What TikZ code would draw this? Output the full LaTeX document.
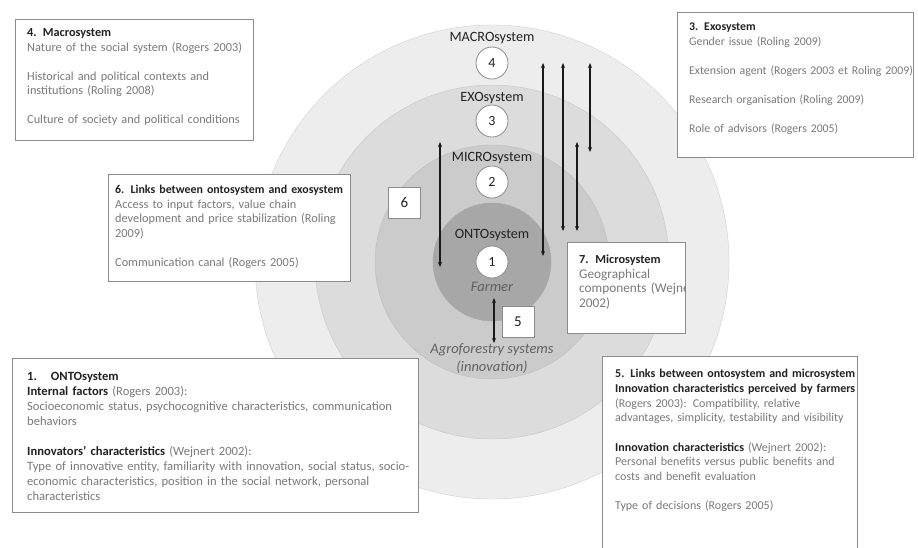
\documentclass[tikz,border=0pt]{standalone}
\usepackage{fontspec}
\setmainfont{Carlito}
\usetikzlibrary{arrows.meta}
\definecolor{cmacro}{HTML}{EDEDED}
\definecolor{cexo}{HTML}{DCDCDC}
\definecolor{cmicro}{HTML}{CBCBCB}
\definecolor{conto}{HTML}{A7A7A7}
\definecolor{ttl}{HTML}{222222}
\definecolor{bdy}{HTML}{7A7A7A}
\definecolor{bord}{HTML}{8C8C8C}
\newcommand\bt[1]{\textcolor{ttl}{\textbf{#1}}}
\begin{document}
\begin{tikzpicture}[x=1pt,y=-1pt,
  ring/.style={circle,inner sep=0pt},
  numc/.style={circle,fill=white,draw=bord,line width=0.8pt,minimum size=32pt,inner sep=0pt,font=\fontsize{14}{14}\selectfont,text=ttl},
  syslbl/.style={font=\fontsize{14.2}{14.2}\selectfont,text=ttl,inner sep=0pt},
  italbl/.style={font=\fontsize{14.5}{18}\selectfont\itshape,text=black!62,inner sep=0pt,align=center},
  tbox/.style={rectangle,fill=white,draw=bord,line width=0.8pt,anchor=north west,inner sep=0pt},
  sqbox/.style={rectangle,fill=white,draw=bord,line width=0.8pt,minimum width=32pt,minimum height=31pt,inner sep=0pt,font=\fontsize{15}{15}\selectfont,text=ttl},
  btxt/.style={anchor=north west,inner sep=0pt,align=left,text=bdy,text width=340pt},
  dbl/.style={{Stealth[length=5pt,width=4pt]}-{Stealth[length=5pt,width=4pt]},line width=1.2pt,draw=black!90}
]
\useasboundingbox (0,0) rectangle (918,547);
\fill[white] (0,0) rectangle (918,547);
% rings
\node[ring,fill=cmacro,draw=black!18,minimum size=474pt] (macro) at (492,262) {};
\node[ring,fill=cexo,draw=black!22,minimum size=354pt] (exo) at (492,262) {};
\node[ring,fill=cmicro,draw=black!26,minimum size=234pt] (micro) at (492,262) {};
\node[ring,fill=conto,draw=black!34,minimum size=118pt] (onto) at (492,262) {};
% labels
\node[syslbl] (lmacro) at (492,38) {MACROsystem};
\node[numc] (n4) at (492,63) {4};
\node[syslbl] (lexo) at (492,98) {EXOsystem};
\node[numc] (n3) at (492,121) {3};
\node[syslbl] (lmicro) at (492,158) {MICROsystem};
\node[numc] (n2) at (492,182) {2};
\node[syslbl] (lonto) at (492,235) {ONTOsystem};
\node[numc] (n1) at (492,262) {1};
\node[italbl] (farmer) at (492,287) {Farmer};
\node[italbl] (agro) at (492,359) {Agroforestry systems\\(innovation)};
% arrows
\coordinate (a1t) at (440,142); \coordinate (a1b) at (440,267);
\coordinate (a2t) at (543,63);  \coordinate (a2b) at (543,256);
\coordinate (a3t) at (563,63);  \coordinate (a3b) at (563,231);
\coordinate (a4t) at (577,142); \coordinate (a4b) at (577,231);
\coordinate (a5t) at (590,63);  \coordinate (a5b) at (590,152);
\coordinate (a6t) at (494,298); \coordinate (a6b) at (494,343);
\draw[dbl] (a1t) -- (a1b);
\draw[dbl] (a2t) -- (a2b);
\draw[dbl] (a3t) -- (a3b);
\draw[dbl] (a4t) -- (a4b);
\draw[dbl] (a5t) -- (a5b);
\draw[dbl] (a6t) -- (a6b);
% small numbered squares
\node[sqbox] (s6) at (404.5,202.5) {6};
\node[sqbox] (s5) at (518,321.5) {5};
% box 4
\node[tbox,minimum width=238pt,minimum height=121pt] (b4) at (15,19) {};
\node[btxt,font=\fontsize{12.3}{14.5}\selectfont] (t4) at (27,26.4) {\strut\bt{4. Macrosystem}\\
Nature of the social system (Rogers 2003)\\[14.5pt]
Historical and political contexts and\\
institutions (Roling 2008)\\[14.5pt]
Culture of society and political conditions};
% box 3
\node[tbox,minimum width=236pt,minimum height=145pt] (b3) at (677,12) {};
\node[btxt,font=\fontsize{11.8}{14.5}\selectfont] (t3) at (689,20.4) {\strut\bt{3. Exosystem}\\
Gender issue (Roling 2009)\\[14.5pt]
Extension agent (Rogers 2003 et Roling 2009)\\[14.5pt]
Research organisation (Roling 2009)\\[14.5pt]
Role of advisors (Rogers 2005)};
% box 6
\node[tbox,minimum width=242pt,minimum height=107pt] (b6) at (108,174) {};
\node[btxt,font=\fontsize{12.3}{14.5}\selectfont] (t6) at (115,183.4) {\strut{\fontsize{11.9}{14.5}\selectfont\bt{6. Links between ontosystem and exosystem}}\\
Access to input factors, value chain\\
development and price stabilization (Roling\\
2009)\\[14.5pt]
Communication canal (Rogers 2005)};
% box 7
\node[tbox,minimum width=118pt,minimum height=91pt] (b7) at (567,242) {};
\begin{scope}
\clip (b7.north west) rectangle (b7.south east);
\node[btxt,font=\fontsize{13.3}{14.5}\selectfont] (t7) at (579,253.4) {\strut{\fontsize{12.3}{14.5}\selectfont\bt{7. Microsystem}}\\
Geographical\\
components (Wejnert\\
2002)};
\end{scope}
% box 1
\node[tbox,minimum width=406pt,minimum height=154pt] (b1) at (12,358) {};
\node[btxt,text width=420pt,font=\fontsize{12.6}{15}\selectfont] (t1) at (27,370) {\strut\bt{1.\hspace{14pt}ONTOsystem}\\
\bt{Internal factors} (Rogers 2003):\\
Socioeconomic status, psychocognitive characteristics, communication\\
behaviors\\[15pt]
\bt{Innovators' characteristics} (Wejnert 2002):\\
Type of innovative entity, familiarity with innovation, social status, socio-\\
economic characteristics, position in the social network, personal\\
characteristics};
% box 5
\begin{scope}
\clip (0,0) rectangle (918,547);
\node[tbox,minimum width=255pt,minimum height=200pt] (b5) at (602,356) {};
\end{scope}
\node[btxt,font=\fontsize{12}{14.7}\selectfont] (t5) at (615,367.2) {\strut\bt{5. Links between ontosystem and microsystem}\\
\bt{Innovation characteristics perceived by farmers}\\
(Rogers 2003): Compatibility, relative\\
advantages, simplicity, testability and visibility\\[14.7pt]
\bt{Innovation characteristics} (Wejnert 2002):\\
Personal benefits versus public benefits and\\
costs and benefit evaluation\\[14.7pt]
Type of decisions (Rogers 2005)};
\end{tikzpicture}
\end{document}
